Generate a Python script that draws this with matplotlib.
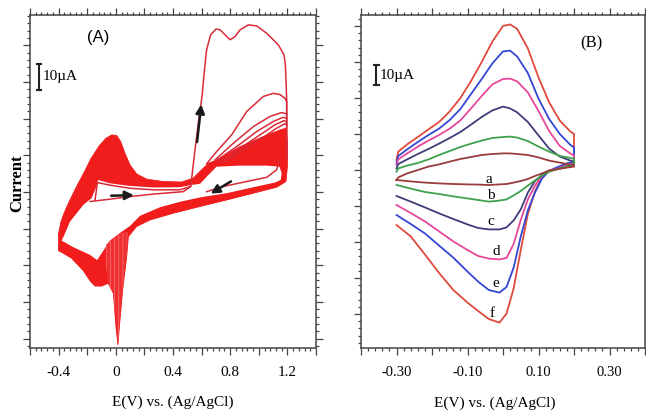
import matplotlib.pyplot as plt
from matplotlib.ticker import MultipleLocator, FuncFormatter

plt.rcParams['font.family'] = ['Liberation Serif', 'DejaVu Serif']
plt.rcParams['hatch.linewidth'] = 0.5

# ---------------- panel A : repetitive cycling, E (V) / I (uA) ----------------
# outline of the dense band of overlapping cycles
band_E = [-0.400, -0.400, -0.383, -0.362, -0.332, -0.274, -0.215, -0.176, -0.115, -0.069,
          -0.029, 0.006, 0.034, 0.064, 0.099, 0.146, 0.216, 0.332, 0.461, 0.542,
          0.600, 0.647, 0.705, 0.869, 1.032, 1.148, 1.190, 1.200, 1.200, 1.190,
          1.125, 0.962, 0.775, 0.589, 0.402, 0.239, 0.146, 0.088, 0.076, 0.048,
          0.025, 0.015, 0.001, -0.017, -0.052, -0.099, -0.145, -0.176, -0.227, -0.309,
          -0.367]
band_I = [-22.6, -15.9, -11.4, -8.2, -4.4, 2.1, 8.2, 12.6, 17.8, 20.6,
          21.9, 21.7, 19.4, 14.9, 10.4, 6.9, 4.9, 4.0, 3.8, 5.3,
          8.5, 11.0, 12.3, 17.4, 21.3, 23.8, 24.5, 20.0, 9.7, 4.0,
          1.8, -0.5, -3.1, -5.6, -8.2, -10.8, -13.3, -17.2, -24.9, -37.7,
          -51.8, -58.8, -51.8, -39.0, -35.1, -36.2, -36.2, -34.5, -30.3, -25.5,
          -23.6]
# empty inside of the band
hole_E = [-0.367, -0.320, -0.227, -0.169, -0.134, -0.124, -0.041, 0.099, 0.262, 0.449,
          0.531, 0.589, 0.647, 0.705, 0.869, 1.055, 1.144, 1.160, 1.153, 1.113,
          0.962, 0.775, 0.589, 0.449, 0.309, 0.169, 0.099, 0.029, -0.041, -0.099,
          -0.131, -0.180, -0.299, -0.379]
hole_I = [-17.4, -11.4, -5.0, -2.4, 2.3, 4.6, 3.3, 2.3, 1.7, 1.8,
          2.7, 3.1, 6.5, 9.7, 10.1, 10.1, 9.7, 7.2, 4.6, 3.6,
          1.8, -0.5, -2.1, -3.8, -5.9, -9.2, -13.1, -15.8, -18.7, -23.6,
          -26.2, -24.2, -21.2, -18.7]
# thinner, hatched looking part under the reduction spike
spike_E = [-0.069, 0.029, 0.083, 0.071, 0.043, 0.025, 0.015, 0.004, -0.017, -0.052, -0.069]
spike_I = [-20.4, -15.9, -15.3, -27.4, -39.0, -51.8, -58.8, -51.8, -39.0, -35.1, -28.7]

# first scan
cyc1_E = [-0.180, -0.041, 0.053, 0.250, 0.472, 0.524, 0.554, 0.584, 0.603, 0.619,
          0.635, 0.663, 0.701, 0.729, 0.764, 0.799, 0.834, 0.869, 0.927, 0.985,
          1.055, 1.137, 1.176, 1.186, 1.195, 1.195]
cyc1_I = [-3.7, -2.8, -2.1, -0.9, 0.1, 2.1, 16.2, 29.6, 36.7, 46.3,
          54.6, 60.4, 62.6, 62.3, 60.4, 58.5, 59.7, 62.3, 64.2, 63.8,
          61.0, 56.5, 52.7, 48.8, 35.4, 12.3]
lens_E = [-0.145, -0.129, -0.041, 0.099, 0.262, 0.449, 0.524]
lens_I = [-3.1, 3.6, 2.6, 1.4, 0.8, 0.8, 2.1]
ret_E = [1.148, 1.125, 1.055, 0.915, 0.752, 0.635]
ret_I = [12.9, 8.5, 5.6, 4.0, 2.1, 0.1]
# second scan and the next few
cyc2_E = [0.635, 0.705, 0.810, 0.915, 1.032, 1.102, 1.148, 1.183, 1.195, 1.195]
cyc2_I = [10.8, 15.5, 21.9, 30.9, 36.7, 37.9, 37.4, 36.0, 34.7, 12.3]
cyc3_E = [0.694, 0.822, 0.962, 1.078, 1.160, 1.195]
cyc3_I = [12.3, 18.7, 25.1, 29.0, 30.5, 30.0]
cyc4_E = [0.705, 0.845, 0.985, 1.102, 1.172, 1.195]
cyc4_I = [12.1, 17.4, 23.2, 27.1, 28.7, 28.2]
cyc5_E = [0.729, 0.869, 1.008, 1.113, 1.176, 1.195]
cyc5_I = [11.7, 16.8, 21.9, 25.8, 27.4, 26.9]
cyc6_E = [0.752, 0.892, 1.032, 1.125, 1.183, 1.195]
cyc6_I = [11.4, 16.2, 21.0, 24.5, 26.2, 25.8]

# ---------------- panel B : CVs a-f ----------------
E_fwd = [-0.30, -0.295, -0.27, -0.24, -0.21, -0.18, -0.15, -0.12, -0.09, -0.06,
         -0.03, 0.00, 0.02, 0.04, 0.07, 0.10, 0.13, 0.16, 0.19, 0.20]
E_rev = [0.20, 0.18, 0.15, 0.13, 0.11, 0.09, 0.07, 0.05, 0.03, 0.01,
         -0.01, -0.04, -0.07, -0.10, -0.14, -0.18, -0.22, -0.26, -0.30]

fwd_a = [-5.0, -3.7, -1.7, 0.0, 1.7, 2.8, 4.2, 5.5, 6.5, 7.5, 8.0, 8.3, 8.3, 8.0, 7.5, 6.3, 4.7, 3.7, 2.7, 2.5]
fwd_b = [-0.8, 0.8, 2.2, 3.5, 5.3, 7.5, 9.5, 11.5, 13.2, 14.7, 16.0, 16.5, 16.7, 16.2, 14.5, 11.7, 9.2, 7.0, 6.0, 5.7]
fwd_c = [0.8, 3.0, 5.3, 8.0, 10.5, 13.2, 16.0, 19.0, 22.7, 26.5, 29.8, 31.7, 30.8, 28.8, 24.0, 17.3, 10.7, 6.7, 4.7, 4.2]
fwd_d = [2.5, 5.3, 8.3, 11.7, 14.7, 17.5, 20.7, 24.8, 30.8, 37.0, 42.8, 45.5, 45.7, 44.3, 38.8, 29.5, 19.5, 12.0, 8.2, 7.3]
fwd_e = [3.3, 7.0, 10.3, 14.0, 17.5, 20.7, 25.0, 30.5, 38.0, 45.5, 53.3, 59.3, 59.7, 56.7, 48.5, 35.7, 25.5, 18.0, 12.5, 11.3]
fwd_f = [5.0, 9.2, 12.8, 16.5, 20.3, 24.0, 29.3, 36.0, 44.5, 54.0, 64.2, 72.0, 72.8, 70.5, 60.8, 46.3, 33.8, 24.7, 19.2, 18.0]

rev_a = [1.7, 1.2, 0.3, -0.2, -1.7, -3.0, -4.5, -5.5, -6.3, -7.0, -7.2, -7.5, -7.3, -7.2, -7.0, -6.7, -6.3, -5.7, -5.0]
rev_b = [2.5, 1.8, 0.3, -0.8, -2.8, -5.2, -7.8, -10.5, -12.7, -14.7, -15.3, -15.8, -15.0, -14.2, -13.2, -12.0, -11.0, -9.3, -7.5]
rev_c = [2.5, 1.7, 0.3, -0.5, -2.5, -5.5, -11.3, -19.7, -25.2, -28.7, -29.7, -29.7, -29.0, -27.2, -24.5, -21.7, -18.7, -15.8, -13.0]
rev_d = [3.3, 2.3, 0.5, -0.7, -2.8, -7.8, -14.7, -25.0, -37.0, -44.0, -44.7, -44.3, -43.0, -40.0, -35.7, -30.7, -25.7, -21.5, -17.5]
rev_e = [4.2, 3.3, 1.2, -0.5, -4.2, -11.3, -20.2, -33.3, -48.8, -58.5, -61.3, -60.0, -55.8, -50.8, -43.8, -37.8, -31.7, -27.0, -22.5]
rev_f = [3.3, 2.3, 0.8, -0.3, -3.3, -10.7, -22.0, -40.0, -59.2, -71.8, -76.3, -74.5, -70.5, -66.3, -60.0, -51.5, -42.2, -33.2, -27.5]

labels = ['a', 'b', 'c', 'd', 'e', 'f']
colors = ['#9a3c3c', '#3ea24c', '#3d3d7c', '#e6489a', '#3346d4', '#e04a3c']
label_E = [-0.040, -0.033, -0.033, -0.018, -0.021, -0.032]
label_I = [-4.5, -12.5, -25.8, -40.8, -56.7, -71.7]

red = '#f11c1c'
line_red = '#d82a38'
spine_col = '#444444'


def style_axes(ax, major, minor, ymajor):
    for s in ax.spines.values():
        s.set_color(spine_col)
        s.set_linewidth(1.1)
    ax.xaxis.set_major_locator(MultipleLocator(major))
    ax.xaxis.set_minor_locator(MultipleLocator(minor))
    ax.yaxis.set_major_locator(MultipleLocator(ymajor))
    ax.yaxis.set_minor_locator(MultipleLocator(ymajor / 5))
    ax.tick_params(which='both', direction='out', top=True, right=True,
                   labelleft=False, color=spine_col, width=0.9)
    ax.tick_params(which='major', length=5, pad=8)
    ax.tick_params(which='minor', length=2.5)


fig = plt.figure(figsize=(6.46, 4.13), dpi=100)

# ---- A ----
axA = fig.add_axes([30 / 646, 65 / 413, 286 / 646, 333 / 413])
axA.fill(band_E, band_I, color=red, lw=0.6, zorder=1)
axA.fill(hole_E, hole_I, color='white', lw=0, zorder=2)
axA.fill(spike_E, spike_I, facecolor='#f03030', edgecolor='#f67a7a', hatch='||||', lw=0, zorder=2)
for E, I in [(cyc1_E, cyc1_I), (lens_E, lens_I), (ret_E, ret_I), (cyc2_E, cyc2_I),
             (cyc3_E, cyc3_I), (cyc4_E, cyc4_I), (cyc5_E, cyc5_I), (cyc6_E, cyc6_I)]:
    axA.plot(E, I, color=line_red, lw=1.1, zorder=3)

arrow_kw = dict(arrowstyle='-|>', color='#1a1a1a', lw=1.8, mutation_scale=13)
axA.annotate('', xy=(0.146, -1.2), xytext=(-0.052, -1.5), arrowprops=arrow_kw, zorder=5)
axA.annotate('', xy=(0.600, 34.7), xytext=(0.566, 18.1), arrowprops=arrow_kw, zorder=5)
axA.annotate('', xy=(0.647, -1.2), xytext=(0.822, 4.6), arrowprops=arrow_kw, zorder=5)

# 10 uA scale bar
axA.plot([-0.537, -0.537], [39.2, 49.2], color='#222222', lw=1.5)
axA.plot([-0.552, -0.522], [39.2, 39.2], color='#222222', lw=1.5)
axA.plot([-0.552, -0.522], [49.2, 49.2], color='#222222', lw=1.5)
axA.text(-0.512, 44.2, '10µA', fontsize=11, va='center', ha='left')
axA.text(0.238, 0.931, '(A)', transform=axA.transAxes, fontsize=12,
         family=['Liberation Sans', 'DejaVu Sans'], ha='center', va='center')

axA.set_xlim(-0.6, 1.4)
axA.set_ylim(-60, 68)
style_axes(axA, 0.2, 0.04, 14.1)
axA.xaxis.set_major_formatter(FuncFormatter(
    lambda v, p: ('0' if abs(v) < 1e-9 else f'{v:.1f}'.replace('\u2212', '-'))
    if round(v / 0.2) % 2 == 0 else ''))
axA.tick_params(axis='x', labelsize=11)
axA.set_xlabel('E(V) vs. (Ag/AgCl)', fontsize=11)
axA.xaxis.set_label_coords(0.5, -0.162)
axA.xaxis.label.set_va('center')
axA.set_ylabel('Current', fontsize=12, fontweight='bold')
axA.yaxis.set_label_coords(-0.045, 0.495)
axA.yaxis.label.set_va('center')

# ---- B ----
axB = fig.add_axes([361 / 646, 65 / 413, 284 / 646, 333 / 413])
fwd = [fwd_a, fwd_b, fwd_c, fwd_d, fwd_e, fwd_f]
rev = [rev_a, rev_b, rev_c, rev_d, rev_e, rev_f]
for f, r, c in zip(fwd[::-1], rev[::-1], colors[::-1]):
    axB.plot(E_fwd + E_rev, f + r, color=c, lw=1.3)
for lab, x, y in zip(labels, label_E, label_I):
    axB.text(x, y, lab, fontsize=11, ha='center', va='center')

axB.plot([-0.357, -0.357], [42.5, 52.5], color='#222222', lw=1.5)
axB.plot([-0.364, -0.350], [42.5, 42.5], color='#222222', lw=1.5)
axB.plot([-0.364, -0.350], [52.5, 52.5], color='#222222', lw=1.5)
axB.text(-0.347, 47.5, '10µA', fontsize=11, va='center', ha='left')
axB.text(0.81, 0.916, '(B)', transform=axB.transAxes, fontsize=12, ha='center', va='center')

axB.set_xlim(-0.4, 0.4)
axB.set_ylim(-89, 77.5)
style_axes(axB, 0.1, 0.02, 18)
axB.xaxis.set_major_formatter(FuncFormatter(
    lambda v, p: f'{v:.2f}'.replace('\u2212', '-') if round(v / 0.1) % 2 != 0 else ''))
axB.tick_params(axis='x', labelsize=10.5)
axB.set_xlabel('E(V) vs. (Ag/AgCl)', fontsize=11)
axB.xaxis.set_label_coords(0.47, -0.165)
axB.xaxis.label.set_va('center')

fig.savefig('out.png', dpi=100)
